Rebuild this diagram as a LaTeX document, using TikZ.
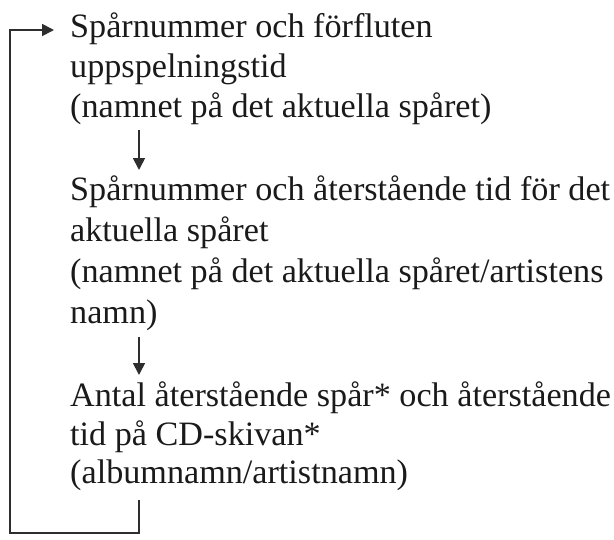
\documentclass[tikz,border=0pt]{standalone}
\usepackage{fontspec}
\setmainfont{Liberation Serif}
\usetikzlibrary{arrows.meta}
\definecolor{ink}{HTML}{1A1A1A}
\definecolor{wire}{HTML}{2E2E2E}
\tikzset{
  txt/.style={anchor=base west, inner sep=0pt, text=ink, font=\fontsize{34.3}{40}\selectfont},
  arr/.style={draw=wire, line width=1.7bp, -{Triangle[length=12bp,width=12bp]}},
}
\begin{document}
\begin{tikzpicture}
\useasboundingbox (0,0) rectangle (614bp,-540bp);
\node[txt] (a1) at (70bp,-37bp) {Spårnummer och förfluten};
\node[txt] (a2) at (70bp,-77bp) {uppspelningstid};
\node[txt] (a3) at (70bp,-117bp) {(namnet på det aktuella spåret)};
\node[txt] (b1) at (70bp,-200bp) {Spårnummer och återstående tid för det};
\node[txt] (b2) at (70bp,-241bp) {aktuella spåret};
\node[txt] (b3) at (70bp,-282bp) {(namnet på det aktuella spåret/artistens};
\node[txt] (b4) at (70bp,-323bp) {namn)};
\node[txt] (c1) at (70bp,-406bp) {Antal återstående spår* och återstående};
\node[txt] (c2) at (70bp,-445bp) {tid på CD-skivan*};
\node[txt] (c3) at (70bp,-483bp) {(albumnamn/artistnamn)};
\coordinate (d1s) at (139bp,-130bp);
\coordinate (d1e) at (139bp,-170bp);
\coordinate (d2s) at (139bp,-337bp);
\coordinate (d2e) at (139bp,-375bp);
\coordinate (ls) at (139bp,-500bp);
\coordinate (lb) at (10bp,-533bp);
\coordinate (le) at (54bp,-30bp);
\draw[arr] (d1s) -- (d1e);
\draw[arr] (d2s) -- (d2e);
\draw[arr] (ls) |- (lb) |- (le);
\end{tikzpicture}
\end{document}
